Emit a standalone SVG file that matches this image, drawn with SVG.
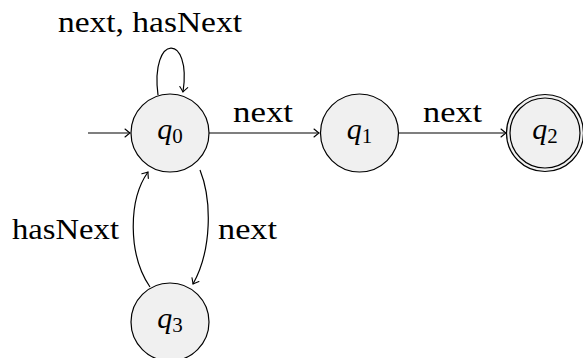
<svg xmlns="http://www.w3.org/2000/svg" width="583" height="358" viewBox="0 0 583 358">
<defs>
<style>
.st{fill:#f0f0f0;stroke:#000;stroke-width:1.2}
.e{fill:none;stroke:#000;stroke-width:1.2;marker-end:url(#ah)}
.t{font-family:"Liberation Serif","DejaVu Serif",serif;font-size:30px;fill:#000}
.q{font-family:"Liberation Serif","DejaVu Serif",serif;font-size:30px;font-style:italic;fill:#000;text-anchor:middle}
.sub{font-style:normal;font-size:21px}
</style>
<marker id="ah" viewBox="-6 -5 8 10" markerWidth="8" markerHeight="10" refX="0" refY="0" orient="auto" markerUnits="userSpaceOnUse">
<path d="M -5 -4 Q -1.5 -1 0 0 Q -1.5 1 -5 4" fill="none" stroke="#000" stroke-width="1.1" stroke-linecap="round"/>
</marker>
</defs>
<rect width="583" height="358" fill="#fff"/>
<g id="connectors">
<path class="e" d="M 88 133 L 130 133"/>
<path class="e" d="M 158 95 C 150 33, 192 33, 183 92"/>
<path class="e" d="M 209 133 L 319 133"/>
<path class="e" d="M 399 133 L 506 133"/>
<path class="e" d="M 200 170 C 212 200, 212 250, 193 284"/>
<path class="e" d="M 150 287 C 128 255, 128 200, 148 172"/>
<text class="t" x="58" y="32" textLength="184" lengthAdjust="spacingAndGlyphs">next, hasNext</text>
<text class="t" x="233" y="122" textLength="60" lengthAdjust="spacingAndGlyphs">next</text>
<text class="t" x="423" y="122" textLength="59" lengthAdjust="spacingAndGlyphs">next</text>
<text class="t" x="12" y="239" textLength="107" lengthAdjust="spacingAndGlyphs">hasNext</text>
<text class="t" x="218" y="239" textLength="59" lengthAdjust="spacingAndGlyphs">next</text>
</g>
<g id="q0">
<circle class="st" cx="170" cy="133" r="39"/>
<text class="q" x="170" y="139">q<tspan class="sub" dy="4">0</tspan></text>
</g>
<g id="q1">
<circle class="st" cx="359.5" cy="133" r="39"/>
<text class="q" x="359.5" y="139">q<tspan class="sub" dy="4">1</tspan></text>
</g>
<g id="q2">
<circle class="st" cx="545" cy="133" r="38.5"/>
<circle cx="545" cy="133" r="35" fill="none" stroke="#000" stroke-width="1.2"/>
<text class="q" x="545" y="139">q<tspan class="sub" dy="4">2</tspan></text>
</g>
<g id="q3">
<circle class="st" cx="170" cy="322" r="39"/>
<text class="q" x="170" y="328">q<tspan class="sub" dy="4">3</tspan></text>
</g>
</svg>
